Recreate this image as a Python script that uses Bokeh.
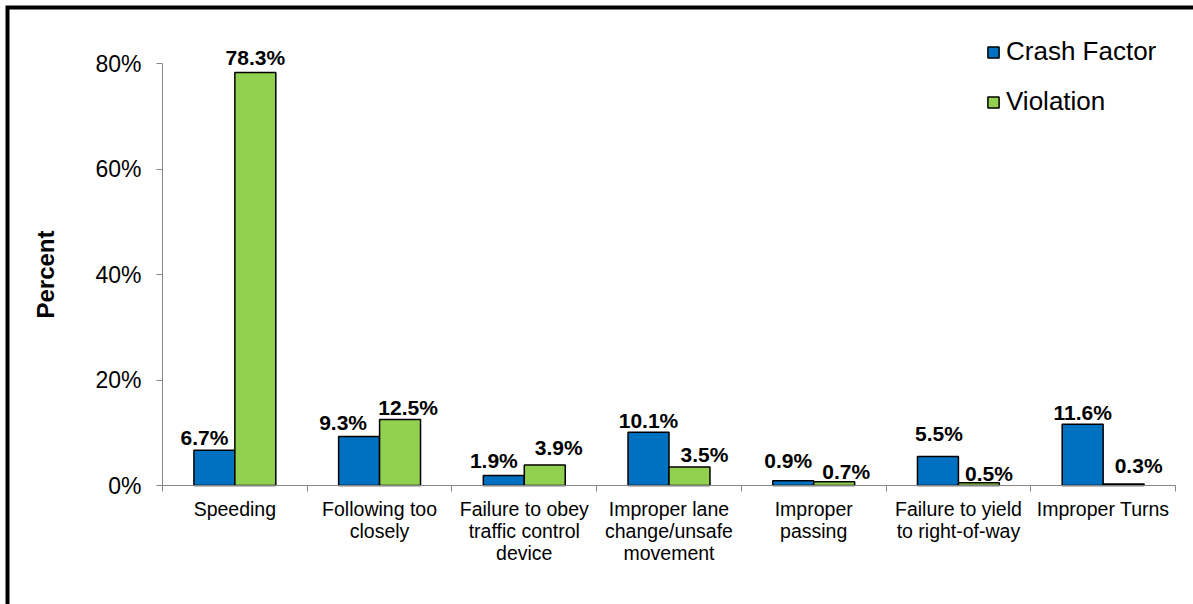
from bokeh.plotting import figure
from bokeh.models import ColumnDataSource, Range1d, FixedTicker, Legend, LegendItem
from bokeh.core.properties import value
from bokeh.embed import file_html
from bokeh.resources import INLINE

# ---- data ----
categories = ["Speeding", "Following too\nclosely", "Failure to obey\ntraffic control\ndevice",
              "Improper lane\nchange/unsafe\nmovement", "Improper\npassing",
              "Failure to yield\nto right-of-way", "Improper Turns"]
crash_factor = [6.7, 9.3, 1.9, 10.1, 0.9, 5.5, 11.6]
violation = [78.3, 12.5, 3.9, 3.5, 0.7, 0.5, 0.3]
y_ticks = [0, 20, 40, 60, 80]
y_tick_labels = ["0%", "20%", "40%", "60%", "80%"]

# ---- label placement styles (screen-pixel nudges, like the original) ----
crash_dx = [-10, -16, -10, 0, -5, 1, 0]
crash_dy = [-6, -7, -8, -5, -13, -16, -5]
viol_dx = [0, 8, 14, 15, 12, 10, 15]
viol_dy = [-8, -5, -10, -6, -3, -2, -11]
BASE_DY = -7

FONT = "Liberation Sans"
BLUE = "#0070C0"
GREEN = "#92D050"
AXIS_GRAY = "#868686"
BAR_W = 0.283

# ---- layout (pixels) ----
W, H = 1193, 604
PX_LEFT, PX_RIGHT = 162, 1175      # x axis extent on the canvas
PX_Y0, PX_YTOP = 485, 63           # canvas rows of 0% and 80%
PX_EDGE = 7                        # centre of the outer chart-area line
n = len(categories)
Y_TOP = y_ticks[-1]

xs = n / (PX_RIGHT - PX_LEFT)
ys = Y_TOP / (PX_Y0 - PX_YTOP)
x_start, x_end = -PX_LEFT * xs, n + (W - PX_RIGHT) * xs
y_start, y_end = -(H - PX_Y0) * ys, Y_TOP + PX_YTOP * ys

centers = [i + 0.5 for i in range(n)]

src_c = ColumnDataSource(dict(
    x=[c - BAR_W / 2 for c in centers], top=crash_factor,
    text=[f"{v:.1f}%" for v in crash_factor], dx=crash_dx,
    dy=[d + BASE_DY for d in crash_dy]))
src_v = ColumnDataSource(dict(
    x=[c + BAR_W / 2 for c in centers], top=violation,
    text=[f"{v:.1f}%" for v in violation], dx=viol_dx,
    dy=[d + BASE_DY for d in viol_dy]))

p = figure(width=W, height=H, output_backend="svg", toolbar_location=None,
           x_range=Range1d(x_start, x_end), y_range=Range1d(y_start, y_end),
           min_border_left=0, min_border_right=0, min_border_top=0, min_border_bottom=0)
p.outline_line_color = None
p.grid.visible = False
p.background_fill_color = "white"
p.border_fill_color = "white"

# outer chart-area frame line (left and top edges are inside the picture)
bx = x_start + PX_EDGE * xs
by = y_end - PX_EDGE * ys
p.line(x=[bx, bx, x_end + 1], y=[y_start - 1, by, by], line_color="black",
       line_width=4, line_join="miter")

rc = p.vbar(x="x", top="top", width=BAR_W, bottom=0, source=src_c,
            fill_color=BLUE, line_color="black", line_width=1.5)
rv = p.vbar(x="x", top="top", width=BAR_W, bottom=0, source=src_v,
            fill_color=GREEN, line_color="black", line_width=1.5)

for s in (src_c, src_v):
    p.text(x="x", y="top", text="text", x_offset="dx", y_offset="dy", source=s,
           text_font=value(FONT), text_font_style="bold", text_font_size="21px",
           text_align="center", text_baseline="alphabetic", text_color="black")

# y axis (drawn at x = 0 inside the canvas)
ya = p.yaxis[0]
ya.fixed_location = 0
ya.ticker = FixedTicker(ticks=y_ticks)
ya.major_label_overrides = {t: l for t, l in zip(y_ticks, y_tick_labels)}
ya.bounds = (0, Y_TOP)
ya.axis_line_color = AXIS_GRAY
ya.major_tick_line_color = AXIS_GRAY
ya.major_tick_out = 6
ya.major_tick_in = 0
ya.minor_tick_line_color = None
ya.major_label_text_font = FONT
ya.major_label_text_font_size = "23px"
ya.major_label_text_color = "black"
ya.major_label_standoff = 15
ya.axis_label = "Percent"
ya.axis_label_text_font = FONT
ya.axis_label_text_font_style = "bold"
ya.axis_label_text_font_size = "24px"
ya.axis_label_text_color = "black"
ya.axis_label_standoff = 33

# x axis (drawn at y = 0)
xa = p.xaxis[0]
xa.fixed_location = 0
xa.ticker = FixedTicker(ticks=centers, minor_ticks=list(range(n + 1)))
xa.major_label_overrides = {c: l for c, l in zip(centers, categories)}
xa.bounds = (0, n)
xa.axis_line_color = AXIS_GRAY
xa.major_tick_line_color = None
xa.major_tick_out = 0
xa.major_tick_in = 0
xa.minor_tick_line_color = AXIS_GRAY
xa.minor_tick_out = 6
xa.minor_tick_in = 0
xa.major_label_text_font = FONT
xa.major_label_text_font_size = "19.5px"
xa.major_label_text_line_height = 1.0
xa.major_label_text_color = "black"
xa.major_label_standoff = 6

legend = Legend(items=[LegendItem(label="Crash Factor", renderers=[rc]),
                       LegendItem(label="Violation", renderers=[rv])],
                location=(986, 487), orientation="vertical",
                label_text_font=FONT, label_text_font_size="26px",
                label_text_color="black",
                glyph_width=14, glyph_height=14, label_standoff=6,
                label_height=30, spacing=19, padding=0, margin=0,
                border_line_color=None, background_fill_alpha=0)
p.add_layout(legend, "center")

open("out.html", "w").write(file_html(p, INLINE))
